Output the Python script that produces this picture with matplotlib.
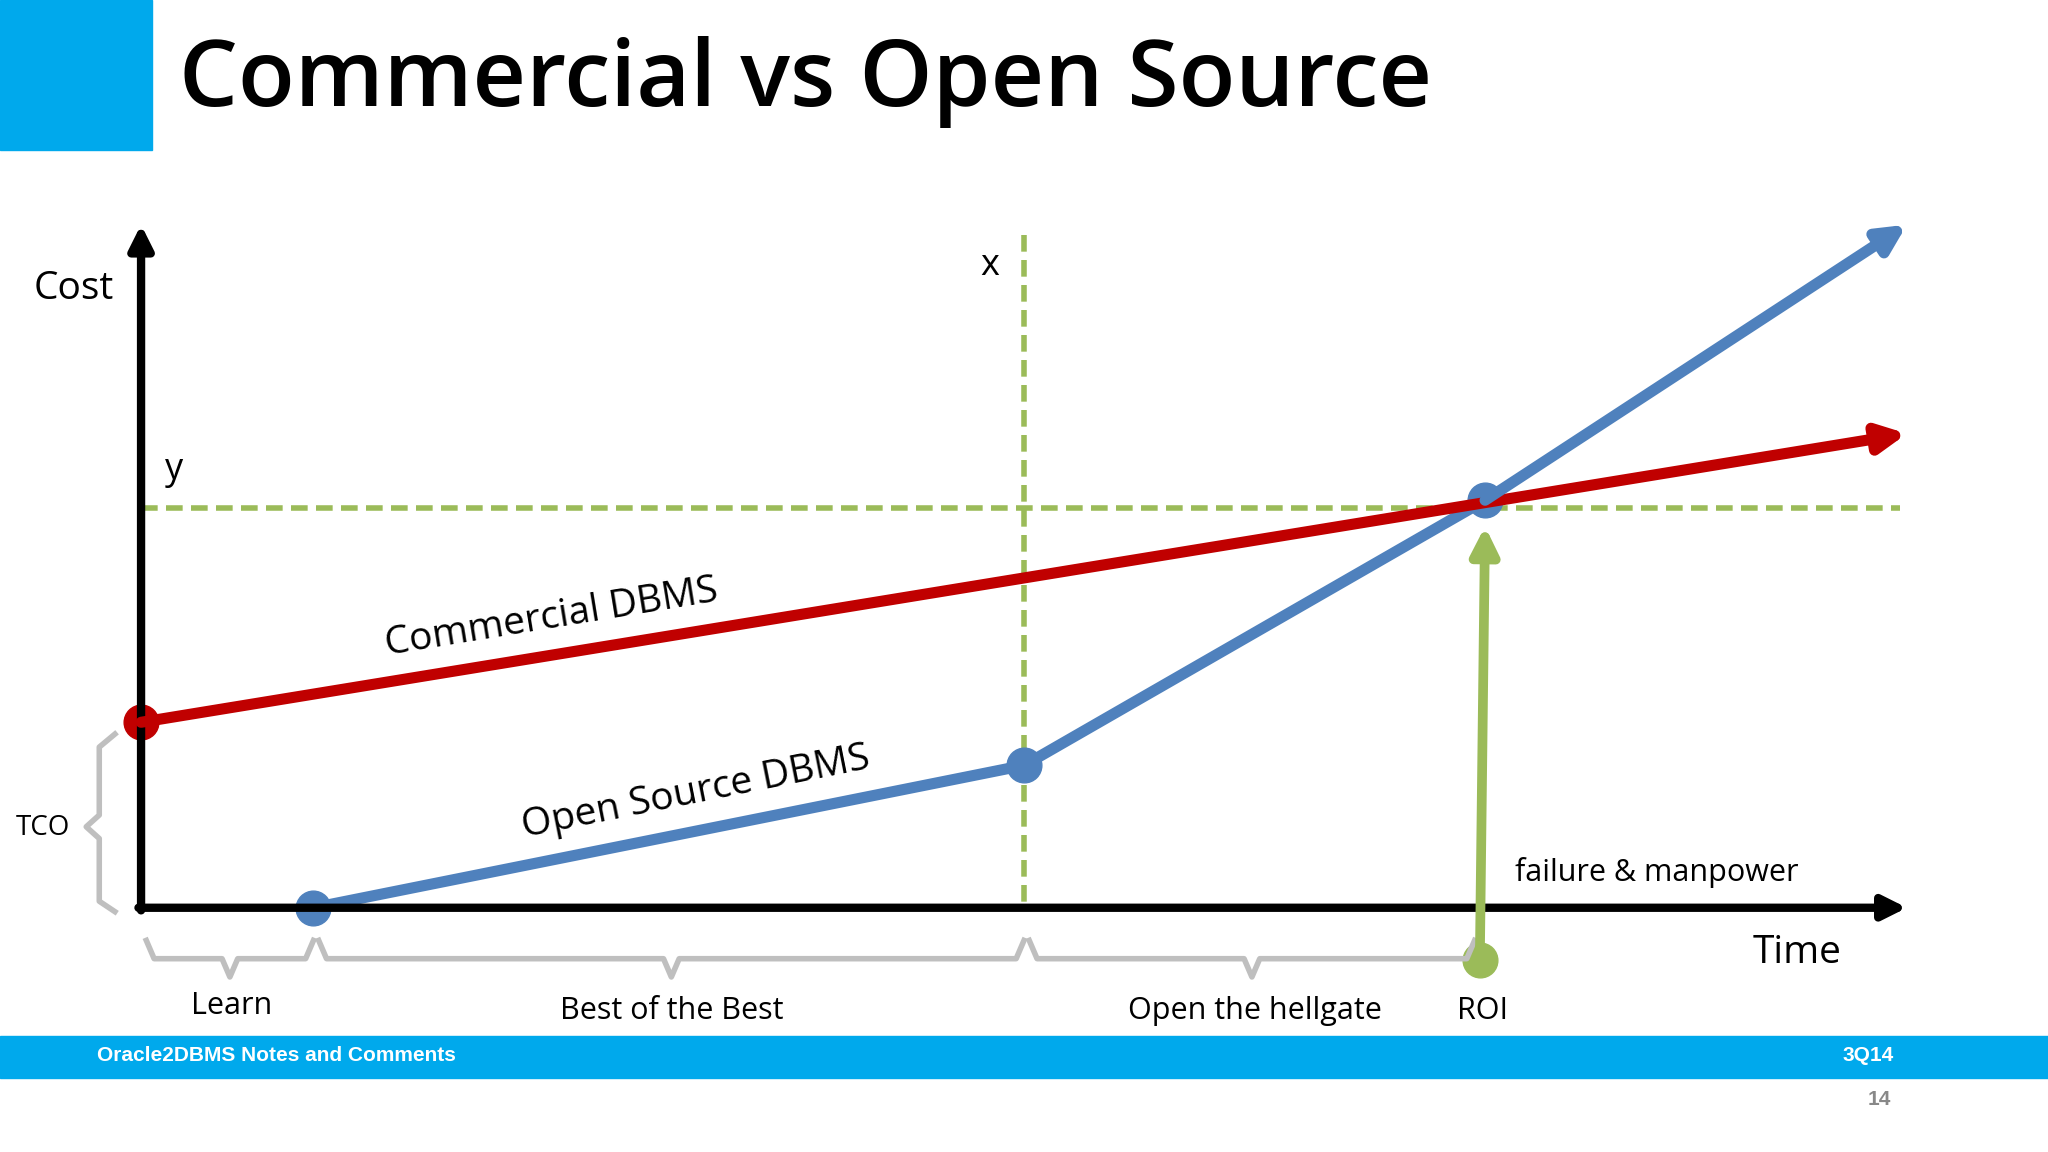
import matplotlib
matplotlib.use("Agg")
import matplotlib.pyplot as plt

# Data (in slide pixel coordinates of a 1568x882 layout)
origin = (108, 695)
yaxis_top = 172
xaxis_right = 1460
red_x = [108, 1460]; red_y = [553, 332]
blue_x = [240, 784, 1137, 1460]; blue_y = [695, 586, 383, 172]
hline_y = 389
vline_x = 784
roi_x = [1133, 1137]; roi_y = [735, 403]
braces = [("Learn", 112, 240), ("Best of the Best", 244, 784), ("Open the hellgate", 788, 1129)]

RED = "#C00000"; BLUE = "#4F81BD"; GREEN = "#9BBB59"; CYAN = "#00A9EC"; GRAY = "#BFBFBF"
plt.rcParams['font.family'] = ['Open Sans', 'DejaVu Sans']

fig = plt.figure(figsize=(20.48, 11.52), dpi=100)
ax = fig.add_axes([0, 0, 1, 1])
ax.set_xlim(0, 1568); ax.set_ylim(882, 0); ax.axis('off')

# header / footer
ax.add_patch(plt.Rectangle((0, 0), 116, 115, color=CYAN))
ax.text(137, 63, "Commercial vs Open Source", fontsize=67, fontweight='semibold', va='center', ha='left')
ax.add_patch(plt.Rectangle((0, 793), 1568, 32, color=CYAN))
ax.text(74, 808, "Oracle2DBMS Notes and Comments", color='white', fontsize=15, fontweight='bold',
        va='center', family=['Liberation Sans'])
ax.text(1450, 808, "3Q14", color='white', fontsize=15, fontweight='bold', va='center', ha='right',
        family=['Liberation Sans'])
ax.text(1448, 842, "14", color='#888888', fontsize=15, fontweight='bold', va='center', ha='right',
        family=['Liberation Sans'])

# dashed guides
ax.plot([108, 1455], [hline_y, hline_y], color=GREEN, lw=4, ls=(0, (3, 1.5)))
ax.plot([vline_x, vline_x], [180, 695], color=GREEN, lw=4, ls=(0, (3, 1.5)))

# axes arrows
ax.annotate('', xy=(origin[0], yaxis_top), xytext=(origin[0], origin[1] + 2),
            arrowprops=dict(arrowstyle='-|>', lw=6, color='black', mutation_scale=35, shrinkA=0, shrinkB=0))
ax.annotate('', xy=(xaxis_right, origin[1]), xytext=(origin[0] - 2, origin[1]),
            arrowprops=dict(arrowstyle='-|>', lw=6, color='black', mutation_scale=35, shrinkA=0, shrinkB=0))

# red line
ax.annotate('', xy=(red_x[1], red_y[1]), xytext=(red_x[0], red_y[0]),
            arrowprops=dict(arrowstyle='-|>', lw=8, color=RED, mutation_scale=40, shrinkA=0, shrinkB=0))
ax.plot(red_x[0], red_y[0], 'o', color=RED, ms=25)

# blue line
ax.plot(blue_x[:3], blue_y[:3], color=BLUE, lw=8, solid_capstyle='round')
ax.annotate('', xy=(blue_x[3], blue_y[3]), xytext=(blue_x[2], blue_y[2]),
            arrowprops=dict(arrowstyle='-|>', lw=8, color=BLUE, mutation_scale=40, shrinkA=0, shrinkB=0))
ax.plot(blue_x[:3], blue_y[:3], 'o', color=BLUE, ms=25, ls='none')

# ROI arrow
ax.annotate('', xy=(roi_x[1], roi_y[1]), xytext=(roi_x[0], roi_y[0]),
            arrowprops=dict(arrowstyle='-|>', lw=7, color=GREEN, mutation_scale=40, shrinkA=0, shrinkB=0))
ax.plot(roi_x[0], roi_y[0], 'o', color=GREEN, ms=25)

# braces
for label, x0, x1 in braces:
    m = (x0 + x1) / 2
    ax.plot([x0, x0 + 6, m - 6, m, m + 6, x1 - 6, x1],
            [720, 734, 734, 748, 734, 734, 720], color=GRAY, lw=4, solid_joinstyle='round')
ax.plot([88, 76, 76, 66, 76, 76, 88], [562, 572, 624, 633, 642, 690, 698], color=GRAY, lw=4)

# labels
fs = 22
ax.text(177, 770, "Learn", fontsize=fs, ha='center', va='center')
ax.text(514, 774, "Best of the Best", fontsize=fs, ha='center', va='center')
ax.text(961, 774, "Open the hellgate", fontsize=fs, ha='center', va='center')
ax.text(1135, 774, "ROI", fontsize=fs, ha='center', va='center')
ax.text(1160, 668, "failure & manpower", fontsize=fs, ha='left', va='center')
ax.text(1342, 730, "Time", fontsize=28, ha='left', va='center')
ax.text(26, 221, "Cost", fontsize=28, ha='left', va='center')
ax.text(12, 634, "TCO", fontsize=20, ha='left', va='center')
ax.text(133, 360, "y", fontsize=26, ha='center', va='center')
ax.text(758, 204, "x", fontsize=26, ha='center', va='center')
ax.text(422, 473, "Commercial DBMS", fontsize=28, ha='center', va='center', rotation=9.3)
ax.text(533, 607, "Open Source DBMS", fontsize=28, ha='center', va='center', rotation=11.3)

fig.savefig("out.png", dpi=100)
